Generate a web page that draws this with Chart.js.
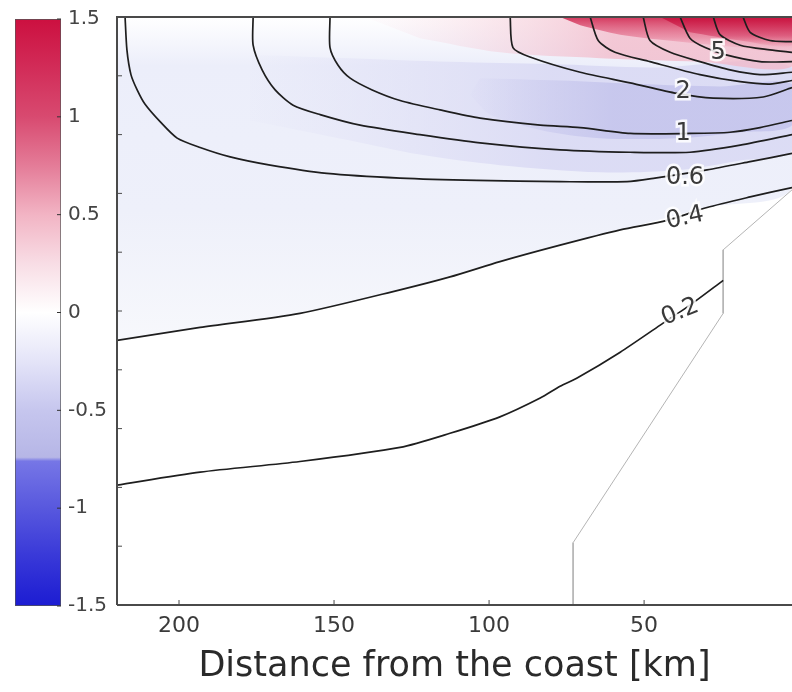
<!DOCTYPE html>
<html>
<head>
<meta charset="utf-8">
<script src="https://cdn.jsdelivr.net/npm/chart.js@4.4.0/dist/chart.umd.min.js"></script>
<style>
  html, body { margin: 0; padding: 0; background: #fff; }
  #wrap { position: relative; width: 792px; height: 692px; }
  #mainChart, #barChart { position: absolute; left: 0; top: 0; }
</style>
</head>
<body>
<div id="wrap">
  <canvas id="mainChart" width="792" height="692"></canvas>
  <canvas id="barChart" width="115" height="692"></canvas>
</div>
<script>
const fontName = "DejaVu Sans"

// x axis: distance from the coast [km], y axis: depth [m] (no labels in the figure)
const xMin = 2.3
const xMax = 220
const depthMin = -500
const depthMax = 0
const xTickValues = [200, 150, 100, 50]
const depthTicks = [-50, -100, -150, -200, -250, -300, -350, -400, -450]

// contour lines, x = km, y = depth
const c06x = [217.4, 216.8, 215.5, 213.5, 211.0, 206.1, 200.6, 193.2, 183.5, 170.6, 152.3, 128.7, 103.9, 77.1, 55.5, 46.5, 29.7, 15.8, 2.3]
const c06y = [0, -28, -49, -62, -74, -89, -103, -111, -119, -126, -133, -137, -139, -140, -140, -137, -130, -123, -116]
const c08x = [176.1, 176.1, 173.2, 169.0, 163.2, 154.5, 141.6, 122.3, 102.9, 77.1, 54.5, 35.2, 19.0, 2.3]
const c08y = [0, -24, -45, -62, -75, -83, -92, -100, -107, -113, -115, -115, -109, -100]
const c1x = [151.3, 151.3, 148.7, 144.8, 137.7, 128.7, 115.8, 102.9, 83.5, 70.6, 54.5, 35.2, 22.3, 12.6, 2.3]
const c1y = [0, -26, -41, -52, -62, -71, -79, -86, -92, -94, -99, -99, -98, -94, -88]
const c2x = [93.2, 92.3, 86.8, 70.6, 54.5, 39.4, 27.7, 11.6, 2.3]
const c2y = [0, -26, -34, -47, -56, -65, -69, -68, -60]
const c3x = [67.4, 64.8, 59.4, 48.1, 32.0, 19.0, 9.4, 2.3]
const c3y = [0, -20, -30, -38, -49, -55, -57, -54]
const c4x = [50.3, 48.1, 41.6, 32.0, 22.3, 12.6, 2.3]
const c4y = [0, -20, -30, -38, -45, -49, -47]
const c5x = [38.4, 35.2, 30.3, 23.9, 12.6, 2.3]
const c5y = [0, -18, -26, -32, -38, -38]
const c6x = [27.7, 25.5, 19.0, 9.4, 2.3]
const c6y = [0, -15, -24, -28, -30]
const c7x = [18.1, 15.8, 9.4, 2.3]
const c7y = [0, -13, -20, -21]
const c04x = [220, 193.2, 161.0, 128.7, 112.6, 96.5, 77.1, 57.7, 42.6, 29.7, 15.8, 2.3]
const c04y = [-275, -264, -252, -232, -221, -208, -194, -181, -173, -162, -153, -145]
const c02x = [220, 193.2, 161.0, 128.7, 112.6, 96.5, 83.5, 77.1, 71.6, 57.7, 44.8, 35.2, 24.5]
const c02y = [-398, -387, -378, -366, -354, -340, -324, -314, -307, -285, -262, -245, -224]

// contour labels
const labelText = ["5", "2", "1", "0.6", "0.4", "0.2"]
const labelX = [26.1, 37.4, 37.4, 36.8, 36.8, 38.4]
const labelY = [-30, -64, -99, -137, -171, -251]
const labelAngle = [0, 0, 0, 0, -12, -22]

// sea floor (masked area)
const bottomX = [2.3, 24.5, 24.5, 72.9, 72.9, 2.3]
const bottomY = [-147, -198, -252, -447, -500, -500]

// shaded areas of the colour field
const washX = [220, 128.7, 2.3, 2.3, 29.7, 57.7, 96.5, 128.7, 161.0, 193.2, 220]
const washY = [0, 0, 0, -145, -162, -181, -208, -232, -252, -264, -275]
const lavX = [177.1, 112.6, 80.3, 48.1, 2.3, 2.3, 19.0, 38.4, 64.2, 96.5, 122.3, 144.8, 177.1]
const lavY = [-32, -38, -40, -43, -43, -113, -122, -130, -132, -126, -117, -105, -88]
const coreX = [102.9, 77.1, 51.3, 25.5, 2.3, 2.3, 19.0, 38.4, 64.2, 83.5, 99.7, 106.1]
const coreY = [-52, -54, -57, -59, -57, -92, -98, -103, -103, -96, -83, -66]
const pinkX = [140, 2.3, 2.3, 32.0, 64.2, 96.5, 122.3]
const pinkY = [0, 0, -42, -38, -35, -30, -18]
const redX = [77.1, 2.3, 2.3, 19.0, 38.4, 57.7, 70.6]
const redY = [0, 0, -30, -26, -21, -15, -7]
const deepX = [44.8, 2.3, 2.3, 19.0, 35.2]
const deepY = [0, 0, -24, -20, -13]

// colour bar
const cbMin = -1.5
const cbMax = 1.5
const cbTickValues = [1.5, 1, 0.5, 0, -0.5, -1, -1.5]
const cbStops = [-1.5, -1.25, -1.0, -0.76, -0.74, -0.5, -0.25, 0, 0.25, 0.5, 0.75, 1.0, 1.25, 1.5]
const cbColors = ["#1c1cd2", "#3838d8", "#5858de", "#7676e6", "#b6b6e6", "#c6c6ee", "#e4e4f8", "#ffffff",
                  "#f8dde5", "#f2b4c4", "#e47c98", "#d84a70", "#d22c58", "#cc1040"]

function pts(xs, ys) {
    return xs.map((x, i) => ({x: x, y: ys[i]}))
}

// vertical gradient between two depths
function vGrad(d0, d1, stops) {
    return function(context) {
        const chart = context.chart
        const y = chart.scales.y
        if (!chart.chartArea || !y) return stops[0][1]
        const p0 = y.getPixelForValue(d0)
        const p1 = y.getPixelForValue(d1)
        if (!isFinite(p0) || !isFinite(p1)) return stops[0][1]
        const g = chart.ctx.createLinearGradient(0, p0, 0, p1)
        stops.forEach(s => g.addColorStop(s[0], s[1]))
        return g
    }
}

// horizontal gradient between two distances
function hGrad(k0, k1, stops) {
    return function(context) {
        const chart = context.chart
        const x = chart.scales.x
        if (!chart.chartArea || !x) return stops[stops.length - 1][1]
        const p0 = x.getPixelForValue(k0)
        const p1 = x.getPixelForValue(k1)
        if (!isFinite(p0) || !isFinite(p1)) return stops[stops.length - 1][1]
        const g = chart.ctx.createLinearGradient(p0, 0, p1, 0)
        stops.forEach(s => g.addColorStop(s[0], s[1]))
        return g
    }
}

function area(xs, ys, color, order) {
    return {
        data: pts(xs, ys),
        fill: "shape",
        backgroundColor: color,
        borderWidth: 0,
        borderColor: "rgba(0,0,0,0)",
        pointRadius: 0,
        tension: 0.3,
        order: order
    }
}

function contour(xs, ys) {
    return {
        data: pts(xs, ys),
        fill: false,
        borderColor: "#1e1e1e",
        borderWidth: 1.7,
        pointRadius: 0,
        tension: 0.25,
        order: 1
    }
}

const framePlugin = {
    id: "frame",
    afterDraw(chart) {
        const ctx = chart.ctx
        const a = chart.chartArea
        const x = chart.scales.x
        const y = chart.scales.y
        ctx.save()
        ctx.strokeStyle = "#4a4a4a"
        ctx.lineWidth = 2
        ctx.beginPath()
        ctx.moveTo(a.left, a.bottom)
        ctx.lineTo(a.left, a.top)
        ctx.lineTo(a.right, a.top)
        ctx.moveTo(a.left, a.bottom)
        ctx.lineTo(a.right, a.bottom)
        ctx.stroke()
        ctx.lineWidth = 1
        ctx.beginPath()
        xTickValues.forEach(v => {
            const px = x.getPixelForValue(v)
            ctx.moveTo(px, a.bottom)
            ctx.lineTo(px, a.bottom - 5)
        })
        depthTicks.forEach(v => {
            const py = y.getPixelForValue(v)
            ctx.moveTo(a.left, py)
            ctx.lineTo(a.left + 5, py)
        })
        ctx.stroke()
        ctx.restore()
    }
}

const labelPlugin = {
    id: "contourLabels",
    afterDatasetsDraw(chart) {
        const ctx = chart.ctx
        const x = chart.scales.x
        const y = chart.scales.y
        ctx.save()
        ctx.font = "24px '" + fontName + "'"
        ctx.textAlign = "center"
        ctx.textBaseline = "middle"
        labelText.forEach((t, i) => {
            ctx.save()
            ctx.translate(x.getPixelForValue(labelX[i]), y.getPixelForValue(labelY[i]))
            ctx.rotate(labelAngle[i] * Math.PI / 180)
            ctx.lineWidth = 5
            ctx.strokeStyle = "rgba(255,255,255,0.85)"
            ctx.strokeText(t, 0, 0)
            ctx.fillStyle = "#3a3a3a"
            ctx.fillText(t, 0, 0)
            ctx.restore()
        })
        ctx.restore()
    }
}

const mainCtx = document.getElementById("mainChart").getContext("2d")
window.mainChart = new Chart(mainCtx, {
    type: "line",
    data: {
        datasets: [
            contour(c06x, c06y),
            contour(c08x, c08y),
            contour(c1x, c1y),
            contour(c2x, c2y),
            contour(c3x, c3y),
            contour(c4x, c4y),
            contour(c5x, c5y),
            contour(c6x, c6y),
            contour(c7x, c7y),
            contour(c04x, c04y),
            contour(c02x, c02y),
            {
                data: pts(bottomX, bottomY),
                fill: "shape",
                backgroundColor: "#ffffff",
                borderColor: "#b4b4b4",
                borderWidth: 1,
                pointRadius: 0,
                tension: 0,
                order: 4
            },
            area(deepX, deepY, vGrad(0, -26, [[0, "rgba(200,16,60,0.95)"], [0.6, "rgba(212,60,100,0.6)"], [1, "rgba(220,90,120,0.0)"]]), 20),
            area(redX, redY, vGrad(0, -34, [[0, "rgba(208,40,80,0.9)"], [0.5, "rgba(228,110,140,0.6)"], [1, "rgba(245,200,212,0)"]]), 21),
            area(pinkX, pinkY, hGrad(145, 60, [[0, "rgba(248,215,225,0)"], [1, "rgba(242,184,200,0.75)"]]), 22),
            area(coreX, coreY, hGrad(108, 60, [[0, "rgba(196,196,236,0)"], [1, "rgba(196,196,236,0.85)"]]), 23),
            area(lavX, lavY, hGrad(185, 80, [[0, "rgba(222,222,245,0)"], [1, "rgba(218,218,244,0.9)"]]), 24),
            area(washX, washY, vGrad(0, -275, [[0, "rgba(255,255,255,1)"], [0.15, "rgba(236,238,250,1)"], [0.6, "rgba(238,240,250,1)"], [1, "rgba(247,248,252,1)"]]), 25)
        ]
    },
    options: {
        responsive: false,
        animation: false,
        layout: {padding: {top: 17, right: 0, left: 0, bottom: 0}},
        plugins: {
            legend: {display: false},
            tooltip: {enabled: false}
        },
        scales: {
            x: {
                type: "linear",
                reverse: true,
                min: xMin,
                max: xMax,
                afterBuildTicks: s => { s.ticks = xTickValues.map(v => ({value: v})) },
                afterFit: s => { s.height = 87 },
                grid: {display: false, drawTicks: false},
                border: {display: false},
                ticks: {
                    color: "#3a3a3a",
                    font: {family: fontName, size: 22},
                    padding: 8,
                    maxRotation: 0
                },
                title: {
                    display: true,
                    text: "Distance from the coast [km]",
                    color: "#2a2a2a",
                    font: {family: fontName, size: 35},
                    padding: {top: 0, bottom: 4}
                }
            },
            y: {
                type: "linear",
                min: depthMin,
                max: depthMax,
                afterFit: s => { s.width = 117 },
                grid: {display: false, drawTicks: false},
                border: {display: false},
                ticks: {display: false}
            }
        }
    },
    plugins: [labelPlugin, framePlugin]
})

function barGradient(context) {
    const chart = context.chart
    const y = chart.scales.y
    if (!chart.chartArea || !y) return cbColors[7]
    const p0 = y.getPixelForValue(cbMin)
    const p1 = y.getPixelForValue(cbMax)
    if (!isFinite(p0) || !isFinite(p1)) return cbColors[7]
    const g = chart.ctx.createLinearGradient(0, p0, 0, p1)
    cbStops.forEach((v, i) => g.addColorStop((v - cbMin) / (cbMax - cbMin), cbColors[i]))
    return g
}

const barTicksPlugin = {
    id: "barTicks",
    afterDraw(chart) {
        const ctx = chart.ctx
        const a = chart.chartArea
        const y = chart.scales.y
        ctx.save()
        ctx.strokeStyle = "#333"
        ctx.lineWidth = 1
        ctx.beginPath()
        cbTickValues.forEach(v => {
            const py = y.getPixelForValue(v)
            ctx.moveTo(a.right - 4, py)
            ctx.lineTo(a.right, py)
        })
        ctx.stroke()
        ctx.restore()
    }
}

const barCtx = document.getElementById("barChart").getContext("2d")
window.barChart = new Chart(barCtx, {
    type: "bar",
    data: {
        labels: ["cb"],
        datasets: [{
            data: [[cbMin, cbMax]],
            backgroundColor: barGradient,
            borderColor: "#555",
            borderWidth: 1,
            borderSkipped: false,
            barPercentage: 1,
            categoryPercentage: 1
        }]
    },
    options: {
        responsive: false,
        animation: false,
        layout: {padding: {top: 18, left: 15, right: 0, bottom: 86}},
        plugins: {
            legend: {display: false},
            tooltip: {enabled: false}
        },
        scales: {
            x: {display: false},
            y: {
                position: "right",
                min: cbMin,
                max: cbMax,
                afterBuildTicks: s => { s.ticks = cbTickValues.map(v => ({value: v})) },
                afterFit: s => { s.width = 54 },
                grid: {display: false, drawTicks: false},
                border: {display: false},
                ticks: {
                    color: "#444",
                    font: {family: fontName, size: 20},
                    padding: 7,
                    callback: v => String(v)
                }
            }
        }
    },
    plugins: [barTicksPlugin]
})
</script>
</body>
</html>
